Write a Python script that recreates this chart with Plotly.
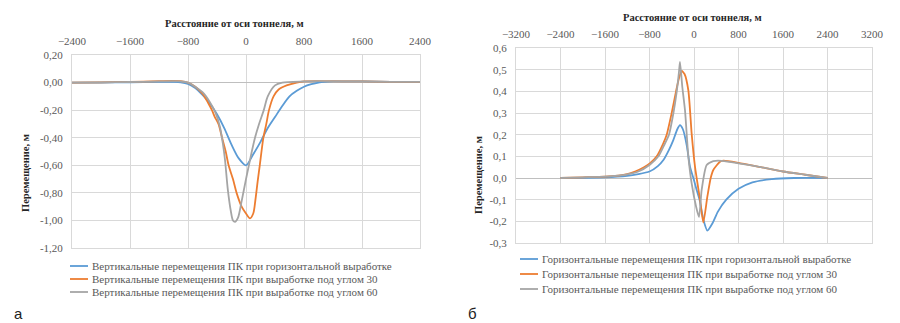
import plotly.graph_objects as go

# ---------------- Panel a: vertical displacements ----------------
a_blue_x = [-2400, -2000, -1600, -1200, -1000, -900, -800, -700, -600, -500, -400, -300, -200, -100,
            0, 100, 200, 300, 400, 500, 600, 700, 800, 900, 1000, 1200, 1600, 2000, 2400]
a_blue_y = [0.0, 0.0, 0.002, 0.005, 0.005, 0.002, -0.01, -0.04, -0.09, -0.15, -0.23, -0.33, -0.45, -0.55,
            -0.60, -0.52, -0.43, -0.33, -0.25, -0.17, -0.10, -0.06, -0.03, -0.012, 0.0, 0.008, 0.008, 0.005, 0.005]

a_orange_x = [-2400, -2000, -1600, -1200, -1000, -900, -800, -700, -600, -520, -470, -430, -380, -330, -280, -240,
              -180, -130, -60, 0, 55, 100, 130, 160, 190, 240, 280, 317, 380, 450, 560, 700, 800, 1000, 1600, 2000, 2400]
a_orange_y = [0.0, 0.002, 0.005, 0.01, 0.012, 0.01, 0.0, -0.03, -0.08, -0.15, -0.20, -0.25, -0.30, -0.40, -0.50, -0.60,
              -0.70, -0.80, -0.90, -0.95, -0.985, -0.95, -0.85, -0.72, -0.60, -0.40, -0.30, -0.20, -0.10, -0.05, -0.02, 0.0, 0.008, 0.01, 0.008, 0.005, 0.005]

a_gray_x = [-2400, -2000, -1600, -1200, -1000, -900, -800, -700, -600, -500, -420, -360, -317, -290, -250, -210,
            -180, -150, -110, -60, 0, 40, 80, 124, 180, 245, 300, 400, 500, 800, 1000, 1600, 2000, 2400]
a_gray_y = [0.0, 0.002, 0.004, 0.008, 0.01, 0.008, 0.0, -0.03, -0.07, -0.14, -0.22, -0.32, -0.45, -0.56, -0.78, -0.93,
            -1.0, -1.01, -0.98, -0.86, -0.70, -0.60, -0.50, -0.40, -0.30, -0.20, -0.10, -0.02, 0.0, 0.008, 0.01, 0.008, 0.005, 0.005]

a_names = ["Вертикальные перемещения ПК при горизонтальной выработке",
           "Вертикальные перемещения ПК при выработке под углом 30",
           "Вертикальные перемещения ПК при выработке под углом 60"]

# ---------------- Panel б: horizontal displacements ----------------
b_blue_x = [-2400, -2000, -1600, -1200, -1000, -800, -650, -550, -450, -372, -300, -252, -200, -130, -72, 0, 48,
            100, 167, 240, 330, 430, 580, 800, 1050, 1400, 1800, 2400]
b_blue_y = [0.0, 0.001, 0.003, 0.01, 0.018, 0.03, 0.055, 0.083, 0.13, 0.175, 0.225, 0.244, 0.225, 0.15, 0.052, -0.01, -0.055,
            -0.10, -0.19, -0.243, -0.21, -0.155, -0.10, -0.05, -0.02, -0.005, 0.0, 0.0]

b_orange_x = [-2400, -2000, -1600, -1200, -1060, -900, -790, -670, -552, -491, -401, -323, -270, -222, -170, -102,
              -42, 18, 108, 167, 240, 300, 347, 467, 527, 800, 1200, 1600, 2000, 2400]
b_orange_y = [0.0, 0.003, 0.006, 0.018, 0.03, 0.05, 0.068, 0.10, 0.16, 0.20, 0.30, 0.40, 0.46, 0.494, 0.48, 0.405,
              0.205, 0.052, -0.10, -0.205, -0.086, 0.0, 0.037, 0.075, 0.08, 0.07, 0.05, 0.03, 0.015, 0.0]

b_gray_x = [-2400, -2000, -1600, -1200, -1000, -800, -640, -540, -450, -370, -310, -270, -252, -210, -162, -102,
            -42, 36, 90, 138, 228, 347, 431, 600, 800, 1200, 1600, 2000, 2400]
b_gray_y = [0.0, 0.003, 0.006, 0.017, 0.03, 0.06, 0.10, 0.15, 0.20, 0.30, 0.40, 0.49, 0.536, 0.42, 0.313, 0.10,
            -0.025, -0.13, -0.18, -0.055, 0.06, 0.078, 0.08, 0.076, 0.068, 0.05, 0.03, 0.015, 0.0]

b_names = ["Горизонтальные перемещения ПК при горизонтальной выработке",
           "Горизонтальные перемещения ПК при выработке под углом 30",
           "Горизонтальные перемещения ПК при выработке под углом 60"]

# ---------------- Axis ticks ----------------
a_xticks = [-2400, -1600, -800, 0, 800, 1600, 2400]
a_yticks = [0.2, 0.0, -0.2, -0.4, -0.6, -0.8, -1.0, -1.2]
a_ytext = ["0,20", "0,00", "-0,20", "-0,40", "-0,60", "-0,80", "-1,00", "-1,20"]
b_xticks = [-3200, -2400, -1600, -800, 0, 800, 1600, 2400, 3200]
b_yticks = [0.6, 0.5, 0.4, 0.3, 0.2, 0.1, 0.0, -0.1, -0.2, -0.3]
b_ytext = ["0,6", "0,5", "0,4", "0,3", "0,2", "0,1", "0,0", "-0,1", "-0,2", "-0,3"]

x_title = "Расстояние от оси тоннеля, м"
y_title = "Перемещение, м"

colors = ["#5B9BD5", "#ED7D31", "#A5A5A5"]
SERIF = "Liberation Serif"
TICKC = "#595959"
GRID = "#D9D9D9"

W, H = 900, 323


def px_x(p):
    return p / W


def px_y(p):
    return 1 - p / H


fig = go.Figure()
for xs, ys, nm, c in zip([a_blue_x, a_orange_x, a_gray_x], [a_blue_y, a_orange_y, a_gray_y], a_names, colors):
    fig.add_trace(go.Scatter(x=xs, y=ys, name=nm, mode="lines",
                             line=dict(color=c, width=1.8, shape="spline", smoothing=0.8),
                             xaxis="x", yaxis="y", showlegend=False))
for xs, ys, nm, c in zip([b_blue_x, b_orange_x, b_gray_x], [b_blue_y, b_orange_y, b_gray_y], b_names, colors):
    fig.add_trace(go.Scatter(x=xs, y=ys, name=nm, mode="lines",
                             line=dict(color=c, width=1.8, shape="spline", smoothing=0.6),
                             xaxis="x2", yaxis="y2", showlegend=False))

tickfont = dict(family=SERIF, size=11, color=TICKC)
common_x = dict(side="top", showgrid=True, gridcolor=GRID, gridwidth=1, zeroline=False, automargin=False,
                showline=True, linecolor=GRID, mirror=True, ticks="", tickfont=tickfont, fixedrange=True,
                ticklabelstandoff=5)
common_y = dict(showgrid=True, gridcolor=GRID, gridwidth=1, zeroline=True, zerolinecolor="#BFBFBF",
                zerolinewidth=1.2, showline=True, linecolor=GRID, mirror=True, ticks="", tickfont=tickfont,
                fixedrange=True, automargin=False, ticklabelstandoff=6)

fig.update_layout(
    width=W, height=H,
    margin=dict(l=0, r=0, t=0, b=0, autoexpand=False),
    paper_bgcolor="white", plot_bgcolor="white",
    xaxis=dict(common_x, domain=[px_x(72), px_x(420)], range=[-2400, 2400], tickvals=a_xticks,
               anchor="y"),
    yaxis=dict(common_y, domain=[px_y(248), px_y(55)], range=[-1.2, 0.2], tickvals=a_yticks, ticktext=a_ytext,
               anchor="x"),
    xaxis2=dict(common_x, domain=[px_x(516), px_x(872)], range=[-3200, 3200], tickvals=b_xticks,
                anchor="y2"),
    yaxis2=dict(common_y, domain=[px_y(243), px_y(48)], range=[-0.3, 0.6], tickvals=b_yticks, ticktext=b_ytext,
                anchor="x2"),
    showlegend=False,
)

# Legend (custom, compact rows like the original)
legend_font = dict(family=SERIF, size=11, color=TICKC)
shapes = []
ann = []
for names, x0, x1, xt, rows in [(a_names, 70, 88, 90, [266, 279, 292]),
                                 (b_names, 520, 538, 540, [259, 274, 289])]:
    for nm, c, r in zip(names, colors, rows):
        shapes.append(dict(type="line", xref="paper", yref="paper", x0=px_x(x0), x1=px_x(x1),
                           y0=px_y(r), y1=px_y(r), line=dict(color=c, width=1.8)))
        ann.append(dict(text=nm, x=px_x(xt), y=px_y(r), xref="paper", yref="paper", showarrow=False,
                        font=legend_font, xanchor="left", yanchor="middle"))

title_font = dict(family=SERIF, size=10.5, color="#262626")
ann += [
    dict(text="<b>" + x_title + "</b>", x=px_x(234), y=px_y(23), xref="paper", yref="paper",
         showarrow=False, font=title_font, xanchor="center", yanchor="middle"),
    dict(text="<b>" + x_title + "</b>", x=px_x(692), y=px_y(18), xref="paper", yref="paper",
         showarrow=False, font=title_font, xanchor="center", yanchor="middle"),
    dict(text="<b>" + y_title + "</b>", x=px_x(25), y=px_y(173), xref="paper", yref="paper",
         showarrow=False, font=title_font, textangle=-90, xanchor="center", yanchor="middle"),
    dict(text="<b>" + y_title + "</b>", x=px_x(478), y=px_y(175), xref="paper", yref="paper",
         showarrow=False, font=title_font, textangle=-90, xanchor="center", yanchor="middle"),
    dict(text="а", x=px_x(18), y=px_y(313), xref="paper", yref="paper", showarrow=False,
         font=dict(family="Liberation Sans", size=15, color="#222222"),
         xanchor="center", yanchor="middle"),
    dict(text="б", x=px_x(472), y=px_y(313), xref="paper", yref="paper", showarrow=False,
         font=dict(family="Liberation Sans", size=15, color="#222222"),
         xanchor="center", yanchor="middle"),
]
fig.update_layout(annotations=ann, shapes=shapes)

fig.write_html("out.html")
